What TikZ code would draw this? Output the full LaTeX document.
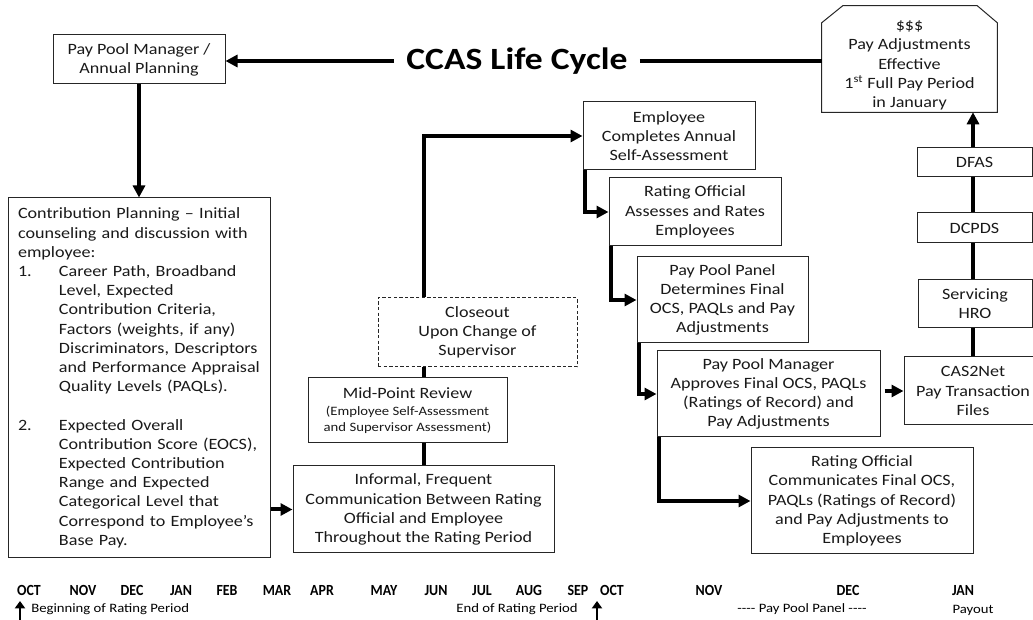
\documentclass[tikz,border=0pt]{standalone}
\usepackage{fontspec}
\setmainfont{Carlito}[FakeStretch=1.15]
\newfontfamily\monthfont{Carlito}[FakeStretch=0.9]
\usetikzlibrary{arrows.meta,calc}
\newcommand\mainfs{\fontsize{11.8}{14.4}\selectfont}
\newcommand\smallfs{\fontsize{9.6}{12.6}\selectfont}
\newcommand\titlefs{\fontsize{23.2}{28}\selectfont\bfseries}
\newcommand\monthfs{\fontsize{11.6}{13}\selectfont\monthfont\bfseries}
\begin{document}
\begin{tikzpicture}[x=0.75pt,y=-0.75pt,
  rect/.style n args={4}{minimum width={(#3-#1)*0.75pt}, minimum height={(#4-#2)*0.75pt},
     at={({(#1+#3)/2},{(#2+#4)/2})}, anchor=center},
  box/.style={draw=black!85, line width=0.75pt, inner sep=0pt, align=center, font=\mainfs, text=black!90},
  dashbox/.style={box, dash pattern=on 2.6pt off 1.6pt},
  flow/.style={line width=3pt, -{Triangle[length=9pt,width=9pt]}},
  link/.style={line width=3pt},
  smallflow/.style={line width=2.2pt, -{Triangle[length=5.5pt,width=7.5pt]}},
  month/.style={font=\monthfs, inner sep=0pt, anchor=base},
  note/.style={font=\smallfs, inner sep=0pt, anchor=base}
]
\useasboundingbox (0,0) rectangle (1033,620);

% top
\node[box, rect={53}{35}{225}{84}] (ppm) {Pay Pool Manager /\\Annual Planning};
\node[font=\titlefs, inner xsep=9pt, inner ysep=0pt] (title) at (517,61) {CCAS Life Cycle};
\node[inner sep=0pt, rect={822}{19}{997}{112}, align=center, font=\mainfs, text=black!90] (pay)
  {\$\$\$\\Pay Adjustments\\Effective\\1\textsuperscript{st} Full Pay Period\\in January};
\draw[black!85, line width=0.75pt] (pay.south west) -- ([shift={(0,4)}]pay.north west)
  -- ([shift={(21,-13)}]pay.north west) -- ([shift={(-20,-13)}]pay.north east)
  -- ([shift={(0,4)}]pay.north east) -- (pay.south east) -- cycle;

% right column
\node[box, rect={917}{148}{1032}{177}] (dfas) {DFAS};
\node[box, rect={917}{213}{1032}{243}] (dcpds) {DCPDS};
\node[box, rect={918}{280}{1032}{328}] (hro) {Servicing\\HRO};
\node[box, rect={904}{357}{1042}{425}] (cas) {CAS2Net\\Pay Transaction\\Files};

% staircase
\node[box, rect={583}{102}{755}{170}] (emp) {Employee\\Completes Annual\\Self-Assessment};
\node[box, rect={609}{178}{781}{246}] (rating) {Rating Official\\Assesses and Rates\\Employees};
\node[box, rect={637}{257}{808}{343}] (panel) {Pay Pool  Panel\\Determines Final\\OCS, PAQLs and Pay\\Adjustments};
\node[box, rect={657}{351}{880}{437}] (appr) {Pay Pool  Manager\\Approves  Final OCS, PAQLs\\(Ratings of Record)  and\\Pay Adjustments};
\node[box, rect={751}{448}{973}{554}] (comm) {Rating Official\\Communicates Final OCS,\\PAQLs (Ratings of Record)\\and Pay Adjustments  to\\Employees};

% left
\node[box, rect={8}{198}{270}{558}, text width=181.5pt, align=left] (contrib)
  {Contribution  Planning -- Initial\\
   counseling and discussion with\\
   employee:\\
   \makebox[30.75pt][l]{1.}Career Path, Broadband\\
   \hspace*{30.75pt}Level, Expected\\
   \hspace*{30.75pt}Contribution  Criteria,\\
   \hspace*{30.75pt}Factors (weights, if any)\\
   \hspace*{30.75pt}Discriminators, Descriptors\\
   \hspace*{30.75pt}and Performance  Appraisal\\
   \hspace*{30.75pt}Quality Levels (PAQLs).\\
   \mbox{}\\
   \makebox[30.75pt][l]{2.}Expected Overall\\
   \hspace*{30.75pt}Contribution  Score (EOCS),\\
   \hspace*{30.75pt}Expected Contribution\\
   \hspace*{30.75pt}Range and Expected\\
   \hspace*{30.75pt}Categorical Level that\\
   \hspace*{30.75pt}Correspond to  Employee’s\\
   \hspace*{30.75pt}Base Pay.};
\node[box, rect={293}{466}{554}{553}] (informal) {Informal,  Frequent\\Communication  Between Rating\\Official and Employee\\Throughout  the Rating Period};
\node[box, rect={308}{378}{507}{443}] (mid) {Mid-Point  Review\\[-1.5pt]{\smallfs (Employee Self-Assessment}\\[-2pt]{\smallfs and Supervisor Assessment)}};
\node[dashbox, rect={378}{298}{577}{367}] (close) {Closeout\\Upon  Change of\\Supervisor};

% connectors
\draw[flow] (title.west) -- (title.west -| ppm.east);
\draw[link] (title.east) -- (title.east -| pay.west);
\draw[flow] (ppm.south) -- (ppm.south |- contrib.north);
\draw[flow] (informal.west -| contrib.east) -- (informal.west);
\draw[link] (informal.north) -- (informal.north |- mid.south);
\draw[link] (informal.north |- mid.north) -- (informal.north |- close.south);
\draw[flow] (informal.north |- close.north) |- (emp.west);
\draw[flow] ([xshift=1.5pt]emp.south west) |- (rating.west);
\draw[flow] ([xshift=1.5pt]rating.south west) |- (panel.west);
\draw[flow] ([xshift=1.5pt]panel.south west) |- (appr.west);
\draw[flow] ([xshift=1.5pt]appr.south west) |- (comm.west);
\draw[flow] ([xshift=3pt]appr.east |- cas.west) -- (cas.west);
\draw[link] (cas.north) -- (cas.north |- hro.south);
\draw[link] (cas.north |- hro.north) -- (cas.north |- dcpds.south);
\draw[link] (cas.north |- dcpds.north) -- (cas.north |- dfas.south);
\draw[flow] (cas.north |- dfas.north) -- (cas.north |- pay.south);

% timeline
\node[month] (m1) at (29,595) {OCT};
\node[month] (m2) at (83,595) {NOV};
\node[month] (m3) at (132,595) {DEC};
\node[month] (m4) at (181,595) {JAN};
\node[month] (m5) at (227,595) {FEB};
\node[month] (m6) at (277,595) {MAR};
\node[month] (m7) at (322,595) {APR};
\node[month] (m8) at (384,595) {MAY};
\node[month] (m9) at (436,595) {JUN};
\node[month] (m10) at (482,595) {JUL};
\node[month] (m11) at (529,595) {AUG};
\node[month] (m12) at (578,595) {SEP};
\node[month] (m13) at (612,595) {OCT};
\node[month] (m14) at (709,595) {NOV};
\node[month] (m15) at (848,595) {DEC};
\node[month] (m16) at (963,595) {JAN};
\node[note, anchor=base west] (begin) at (31,613) {Beginning of Rating Period};
\node[note, anchor=base east] (endrp) at (578,613) {End of Rating Period};
\node[note] (ppp) at (802,613) {-{}-{}-{}- Pay Pool Panel -{}-{}-{}-};
\node[note] (payout) at (973,614) {Payout};
\coordinate (a1b) at (20,622);
\coordinate (a1t) at (20,601);
\coordinate (a2b) at (597,622);
\coordinate (a2t) at (597,601);
\draw[smallflow] (a1b) -- (a1t);
\draw[smallflow] (a2b) -- (a2t);
\end{tikzpicture}
\end{document}
